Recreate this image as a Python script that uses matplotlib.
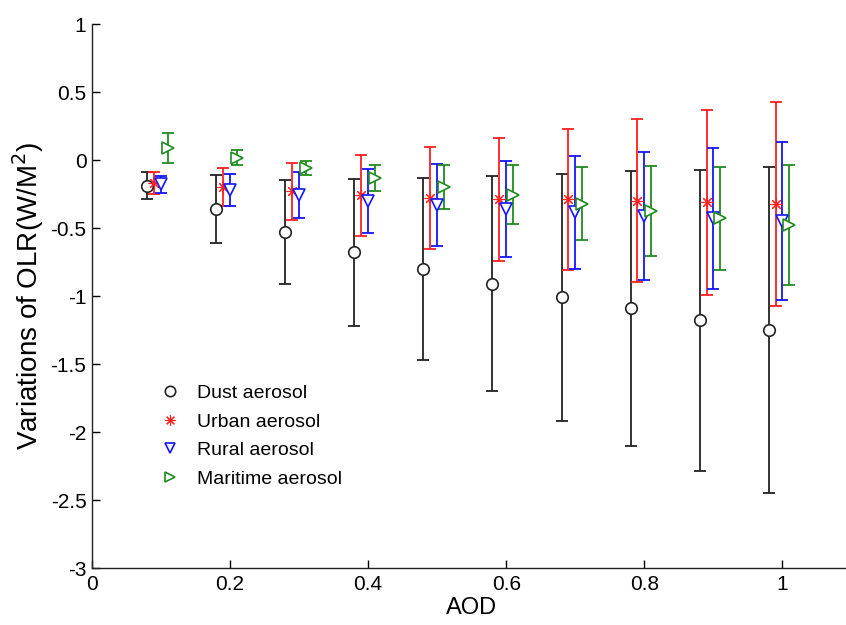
import matplotlib
matplotlib.use("Agg")
import matplotlib.pyplot as plt
import numpy as np

plt.rcParams['font.family'] = ['Liberation Sans', 'DejaVu Sans']

aod = [0.1, 0.2, 0.3, 0.4, 0.5, 0.6, 0.7, 0.8, 0.9, 1.0]

dust_mean = [-0.19, -0.36, -0.53, -0.68, -0.80, -0.91, -1.01, -1.09, -1.18, -1.25]
dust_err = [0.10, 0.25, 0.38, 0.54, 0.67, 0.79, 0.91, 1.01, 1.11, 1.20]

urban_mean = [-0.17, -0.20, -0.23, -0.26, -0.28, -0.29, -0.29, -0.30, -0.31, -0.32]
urban_err = [0.08, 0.14, 0.21, 0.30, 0.375, 0.455, 0.52, 0.60, 0.68, 0.75]

rural_mean = [-0.18, -0.22, -0.26, -0.30, -0.33, -0.36, -0.385, -0.41, -0.43, -0.45]
rural_err = [0.06, 0.12, 0.17, 0.235, 0.30, 0.35, 0.415, 0.47, 0.52, 0.58]

mari_mean = [0.09, 0.015, -0.06, -0.135, -0.20, -0.255, -0.32, -0.375, -0.43, -0.48]
mari_err = [0.11, 0.055, 0.05, 0.095, 0.16, 0.215, 0.27, 0.33, 0.38, 0.44]

offsets = [-0.02, -0.01, 0.0, 0.01]
labels = ['Dust aerosol', 'Urban aerosol', 'Rural aerosol', 'Maritime aerosol']

fig = plt.figure(figsize=(8.46, 6.25), dpi=100)
ax = fig.add_axes([92/846, 57/625, 759.5/846, 544/625])

green = '#1f8c1f'
series = [
    (dust_mean, dust_err, 'o', '#222222', 8.3),
    (urban_mean, urban_err, (8, 2, 0), '#ff2020', 8.5),
    (rural_mean, rural_err, 'v', '#1515ff', 8.6),
    (mari_mean, mari_err, '>', green, 8.6),
]

handles = []
for (m, e, mk, col, ms), off, lab in zip(series, offsets, labels):
    xs = np.array(aod) + off
    ax.errorbar(xs, m, yerr=e, fmt='none', ecolor=col, elinewidth=1.3,
                capsize=4.4, capthick=1.3, zorder=2)
    if mk == (8, 2, 0):
        h, = ax.plot(xs, m, linestyle='none', marker=mk, markersize=ms,
                     markeredgecolor=col, markerfacecolor=col, markeredgewidth=0.8,
                     label=lab, zorder=3)
    else:
        h, = ax.plot(xs, m, linestyle='none', marker=mk, markersize=ms,
                     markeredgecolor=col, markerfacecolor='white', markeredgewidth=1.2,
                     label=lab, zorder=3)
    handles.append(h)

ax.set_xlim(0, 1.1)
ax.set_ylim(-3, 1)
ax.set_xticks([0, 0.2, 0.4, 0.6, 0.8, 1.0])
ax.set_xticklabels(['0', '0.2', '0.4', '0.6', '0.8', '1'])
ax.set_yticks([-3, -2.5, -2, -1.5, -1, -0.5, 0, 0.5, 1])
ax.set_yticklabels(['-3', '-2.5', '-2', '-1.5', '-1', '-0.5', '0', '0.5', '1'])
ax.spines['top'].set_visible(False)
ax.spines['right'].set_visible(False)
for s in ['left', 'bottom']:
    ax.spines[s].set_linewidth(1.0)
    ax.spines[s].set_color('#222222')
ax.tick_params(direction='in', length=6, width=1.0, labelsize=15, colors='black')
ax.tick_params(axis='y', pad=4)
ax.tick_params(axis='x', pad=5)

ax.set_xlabel('AOD', fontsize=17, labelpad=2)
ax.set_ylabel('Variations of OLR(W/M$^2$)', fontsize=20, labelpad=3)

leg = fig.legend(handles=handles, labels=labels, loc='center left',
                 bbox_to_anchor=(160/846, (625-436)/625), frameon=False,
                 fontsize=14, handlelength=1.0, handletextpad=0.9,
                 labelspacing=0.56, borderpad=0, borderaxespad=0,
                 markerscale=0.9)

fig.savefig('out.png', dpi=100)
